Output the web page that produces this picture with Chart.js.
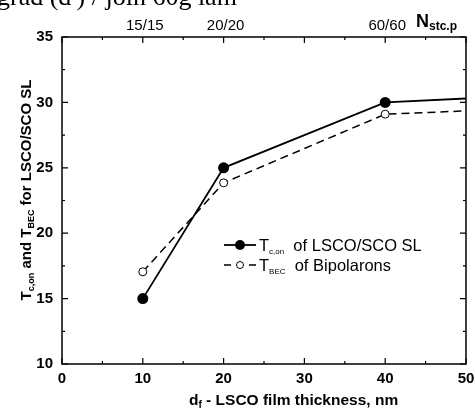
<!DOCTYPE html>
<html>
<head>
<meta charset="utf-8">
<style>
  html, body { margin: 0; padding: 0; background: #fff; }
  #wrap { width: 475px; height: 408px; }
</style>
<script src="https://cdn.jsdelivr.net/npm/chart.js@4"></script>
</head>
<body>
<div id="wrap"><canvas id="chart" width="475" height="408"></canvas></div>
<script>
// DATA
const thickness = [10, 20, 40, 50];
const tcOn = [15, 25, 30, 30.3];
const tBec = [17.05, 23.85, 29.1, 29.35];
const markedPoints = 3; // last point is the line end, no marker

const xTicks = [0, 10, 20, 30, 40, 50];
const yTicks = [10, 15, 20, 25, 30, 35];
const topTickPos = [10, 20, 40];
const topTickLabels = ["15/15", "20/20", "60/60"];

const FONT = "'Liberation Sans', Arial, sans-serif";

function toPoints(ys) {
  return thickness.map((x, i) => ({ x: x, y: ys[i] }));
}

// draw text with a subscript, parts = [[text, isSub], ...]
function drawParts(ctx, parts, x, y, size, subSize, bold, subDrop) {
  let cx = x;
  parts.forEach(p => {
    const sub = p[1];
    ctx.font = (bold ? "bold " : "") + (sub ? subSize : size) + "px " + FONT;
    ctx.fillText(p[0], cx, sub ? y + subDrop : y);
    cx += ctx.measureText(p[0]).width;
  });
  return cx - x;
}

function partsWidth(ctx, parts, size, subSize, bold) {
  let w = 0;
  parts.forEach(p => {
    ctx.font = (bold ? "bold " : "") + (p[1] ? subSize : size) + "px " + FONT;
    w += ctx.measureText(p[0]).width;
  });
  return w;
}

// FRAME, TICKS, LABELS, LEGEND
const decorations = {
  id: "decorations",
  afterDraw(chart) {
    const ctx = chart.ctx;
    const a = chart.chartArea;
    const xs = chart.scales.x;
    const ys = chart.scales.y;
    ctx.save();
    ctx.strokeStyle = "#000";
    ctx.fillStyle = "#000";

    // frame
    ctx.lineWidth = 1.5;
    ctx.strokeRect(a.left, a.top, a.right - a.left, a.bottom - a.top);

    // x ticks (bottom + top), inward
    ctx.lineWidth = 1.2;
    for (let v = 0; v <= 50; v += 5) {
      const px = xs.getPixelForValue(v);
      const len = v % 10 === 0 ? 6 : 3;
      ctx.beginPath();
      ctx.moveTo(px, a.bottom); ctx.lineTo(px, a.bottom - len);
      ctx.moveTo(px, a.top); ctx.lineTo(px, a.top + len);
      ctx.stroke();
    }
    // y ticks (left + right), inward
    for (let v = 10; v <= 35; v += 2.5) {
      const py = ys.getPixelForValue(v);
      const len = v % 5 === 0 ? 6 : 3;
      ctx.beginPath();
      ctx.moveTo(a.left, py); ctx.lineTo(a.left + len, py);
      ctx.moveTo(a.right, py); ctx.lineTo(a.right - len, py);
      ctx.stroke();
    }

    // tick labels
    ctx.font = "bold 15px " + FONT;
    ctx.textAlign = "center";
    ctx.textBaseline = "middle";
    xTicks.forEach(v => ctx.fillText(String(v), xs.getPixelForValue(v), a.bottom + 15));
    ctx.textAlign = "right";
    yTicks.forEach(v => ctx.fillText(String(v), a.left - 9, ys.getPixelForValue(v)));

    // top labels
    ctx.font = "15px " + FONT;
    ctx.textAlign = "center";
    topTickPos.forEach((v, i) => ctx.fillText(topTickLabels[i], xs.getPixelForValue(v) + 2, 26));

    ctx.textAlign = "left";
    ctx.textBaseline = "alphabetic";
    drawParts(ctx, [["N", false], ["stc.p", true]], 416, 27, 18, 12, true, 3);

    // x title
    drawParts(ctx, [["d", false], ["f", true], [" - LSCO film thickness, nm", false]], 189, 405, 15.5, 10, true, 3);

    // y title (rotated)
    const yParts = [["T", false], ["c,on", true], [" and T", false], ["BEC", true], [" for LSCO/SCO SL", false]];
    const yw = partsWidth(ctx, yParts, 15, 9, true);
    ctx.save();
    ctx.translate(31, 190);
    ctx.rotate(-Math.PI / 2);
    drawParts(ctx, yParts, -yw / 2, 0, 15, 9, true, 3);
    ctx.restore();

    // legend
    const r1 = 245, r2 = 265;
    ctx.lineWidth = 1.8;
    ctx.setLineDash([]);
    ctx.beginPath(); ctx.moveTo(224, r1); ctx.lineTo(256, r1); ctx.stroke();
    ctx.beginPath(); ctx.arc(240, r1, 5, 0, Math.PI * 2); ctx.fill();
    ctx.lineWidth = 1.5;
    ctx.beginPath();
    ctx.moveTo(224, r2); ctx.lineTo(231, r2);
    ctx.moveTo(249, r2); ctx.lineTo(256, r2);
    ctx.stroke();
    ctx.lineWidth = 1;
    ctx.fillStyle = "#fff";
    ctx.beginPath(); ctx.arc(240, r2, 3.5, 0, Math.PI * 2); ctx.fill(); ctx.stroke();
    ctx.fillStyle = "#000";
    drawParts(ctx, [["T", false], ["c,on", true], ["  of LSCO/SCO SL", false]], 259, r1 + 6, 16.5, 8, false, 3);
    drawParts(ctx, [["T", false], ["BEC", true], ["  of Bipolarons", false]], 259, r2 + 6, 16.5, 8, false, 3);

    // cut-off caption line from the page above the figure
    ctx.font = "26px 'Liberation Serif', serif";
    ctx.fillText("grad (d\u2009) / join 60g lam", -3, 5);

    ctx.restore();
  }
};

// CHART
new Chart(document.getElementById("chart"), {
  type: "line",
  data: {
    datasets: [
      {
        label: "Tc,on of LSCO/SCO SL",
        data: toPoints(tcOn),
        borderColor: "#000",
        borderWidth: 1.8,
        backgroundColor: "#000",
        pointRadius: c => c.dataIndex < markedPoints ? 5.5 : 0,
        pointBorderWidth: 0,
        tension: 0
      },
      {
        label: "TBEC of Bipolarons",
        data: toPoints(tBec),
        borderColor: "#000",
        borderWidth: 1.5,
        borderDash: [8, 5],
        backgroundColor: "#fff",
        pointRadius: c => c.dataIndex < markedPoints ? 4 : 0,
        pointBorderWidth: 1,
        pointBorderColor: "#000",
        tension: 0
      }
    ]
  },
  options: {
    responsive: false,
    animation: false,
    devicePixelRatio: 1,
    layout: { padding: { left: 62, top: 37, right: 9, bottom: 44 } },
    plugins: { legend: { display: false }, tooltip: { enabled: false } },
    scales: {
      x: { type: "linear", min: 0, max: 50, display: false },
      y: { type: "linear", min: 10, max: 35, display: false }
    }
  },
  plugins: [decorations]
});
</script>
</body>
</html>
